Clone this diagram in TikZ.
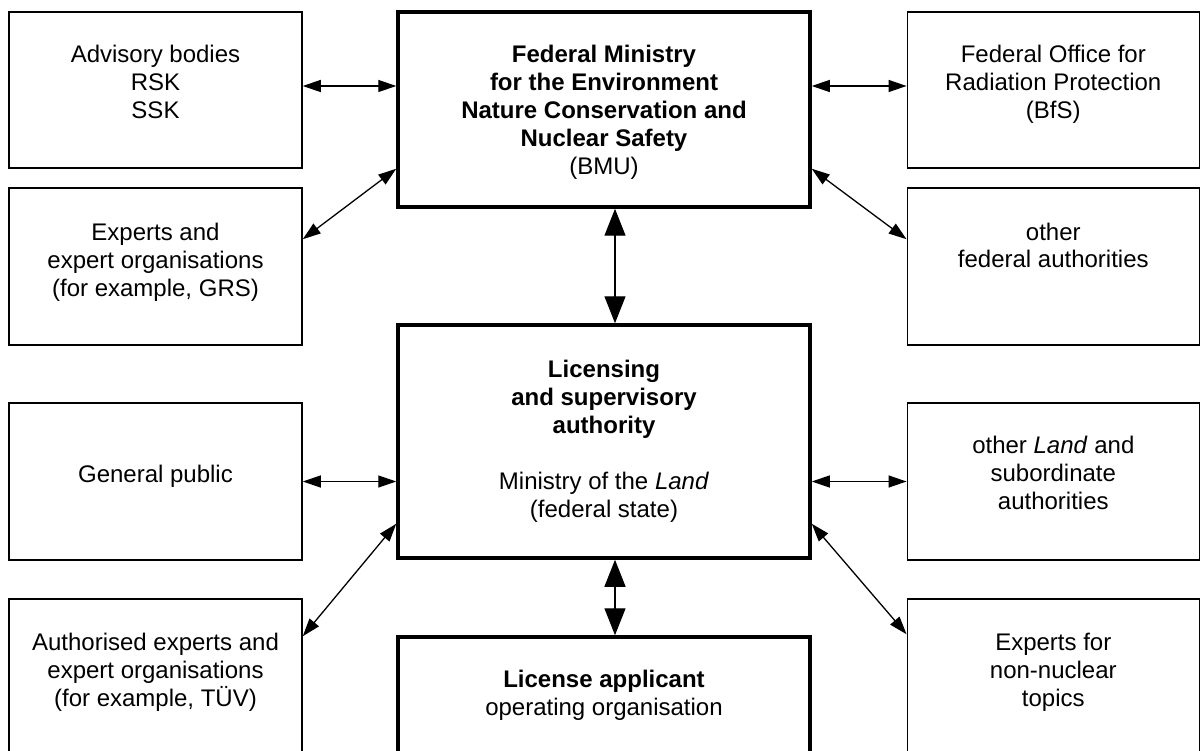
\documentclass[tikz,border=0pt]{standalone}
\usepackage{fontspec}
\setmainfont{Liberation Sans}
\usetikzlibrary{arrows.meta,calc}
\begin{document}
\begin{tikzpicture}[x=1pt,y=-1pt,
  thinbox/.style={draw,line width=1.5pt,rectangle,inner sep=0pt},
  thickbox/.style={draw,line width=3.5pt,rectangle,inner sep=0pt},
  txt/.style={anchor=base,align=center,inner sep=0pt,font=\fontsize{24}{28}\selectfont},
  link/.style={line width=1.3pt,{Triangle[length=18pt,width=12pt]}-{Triangle[length=18pt,width=12pt]}},
  biglink/.style={line width=1.3pt,{Triangle[length=27pt,width=21pt]}-{Triangle[length=27pt,width=21pt]}}]
\useasboundingbox (0,0) rectangle (1201,751);
\clip (0,0) rectangle (1201,751);
% boxes
\node[thinbox,minimum width=293pt,minimum height=156pt] (adv) at (155.5,90) {};
\node[thickbox,minimum width=412pt,minimum height=195pt] (bmu) at (604,109.5) {};
\node[thinbox,minimum width=292pt,minimum height=156pt] (bfs) at (1053.3,90) {};
\node[thinbox,minimum width=293pt,minimum height=157pt] (exp) at (155.5,266.5) {};
\node[thinbox,minimum width=292pt,minimum height=157pt] (ofa) at (1053.3,266.5) {};
\node[thickbox,minimum width=412pt,minimum height=233pt] (lic) at (604,441.5) {};
\node[thinbox,minimum width=293pt,minimum height=157pt] (pub) at (155.5,481.5) {};
\node[thinbox,minimum width=292pt,minimum height=157pt] (land) at (1053.3,481.5) {};
\node[thinbox,minimum width=293pt,minimum height=170pt] (auth) at (155.5,684) {};
\node[thickbox,minimum width=412pt,minimum height=140pt] (app) at (604,707) {};
\node[thinbox,minimum width=292pt,minimum height=170pt] (nonn) at (1053.3,684) {};
% texts (anchored at the baseline of their last line)
\node[txt] (advt) at (adv.north |- 0,119) {Advisory bodies\\RSK\\SSK};
\node[txt] (bmut) at (bmu.north |- 0,175) {\bfseries Federal Ministry\\\bfseries for the Environment\\\bfseries Nature Conservation and\\\bfseries Nuclear Safety\\(BMU)};
\node[txt] (bfst) at (bfs.north |- 0,119) {Federal Office for\\Radiation Protection\\(BfS)};
\node[txt] (expt) at (exp.north |- 0,296) {Experts and\\expert organisations\\(for example, GRS)};
\node[txt] (ofat) at (ofa.north |- 0,268) {other\\federal authorities};
\node[txt] (lict) at (lic.north |- 0,517) {\bfseries Licensing\\\bfseries and supervisory\\\bfseries authority\\[28pt]Ministry of the \textit{Land}\\(federal state)};
\node[txt] (pubt) at (pub.north |- 0,482) {General public};
\node[txt] (landt) at (land.north |- 0,509) {other \textit{Land} and\\subordinate\\authorities};
\node[txt] (autht) at (auth.north |- 0,706) {Authorised experts and\\expert organisations\\(for example, TÜV)};
\node[txt] (appt) at (app.north |- 0,715) {\bfseries License applicant\\operating organisation};
\node[txt] (nonnt) at (nonn.north |- 0,706) {Experts for\\non-nuclear\\topics};
% connectors
\draw[link] ($(adv.east)+(0,-4)$) -- ($(adv.east -| bmu.west)+(0,-4)$);
\draw[link] ($(bmu.east)+(0,-23.5)$) -- ($(bfs.west)+(0,-4)$);
\draw[link] ($(bmu.south west)+(0,-40)$) -- ($(exp.north east)+(0,52)$);
\draw[link] ($(bmu.south east)+(0,-40)$) -- ($(ofa.north west)+(0,52)$);
\draw[biglink] ($(bmu.south)+(11,0)$) -- ($(lic.north)+(11,0)$);
\draw[link] (pub.east) -- (pub.east -| lic.west);
\draw[link] (land.west -| lic.east) -- (land.west);
\draw[link] ($(lic.south west)+(0,-36)$) -- ($(auth.north east)+(0,38)$);
\draw[link] ($(lic.south east)+(0,-36)$) -- ($(nonn.north west)+(0,36)$);
\draw[biglink] ($(lic.south)+(11,0)$) -- ($(app.north)+(11,0)$);
\end{tikzpicture}
\end{document}
